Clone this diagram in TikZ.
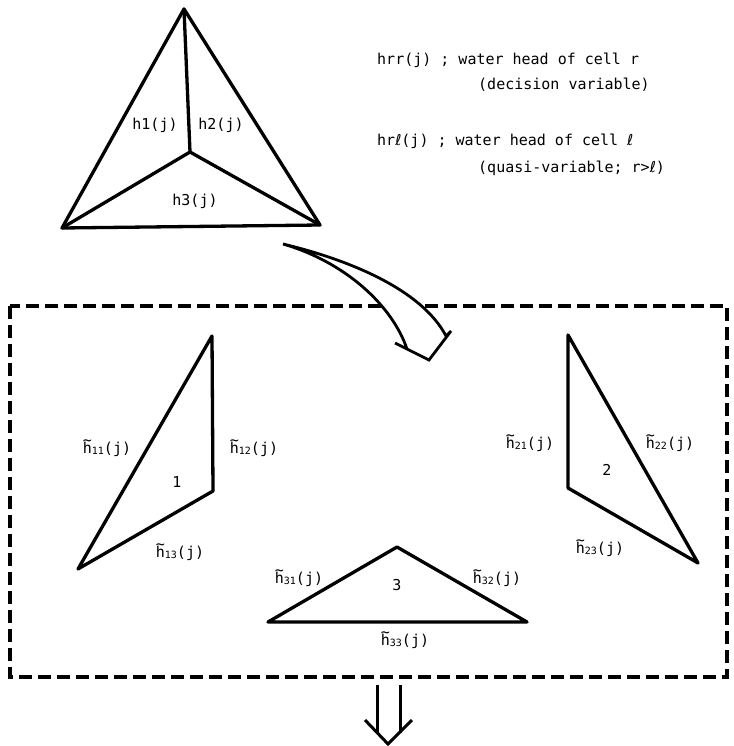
\documentclass[tikz,border=0pt]{standalone}
\usepackage{fontspec}
\setmainfont{DejaVu Sans Mono}
\newfontfamily\symf{DejaVu Sans}
\newcommand\elll{{\symf ℓ}}
\newcommand\hlab[1]{\makebox[0pt][l]{\raisebox{7.5pt}{\char"7E}}h\raisebox{-1.5pt}{\fontsize{10}{10}\selectfont #1}(j)}
\tikzset{
  edge/.style={line width=3.3pt, line join=round, line cap=round},
  lab/.style={font=\fontsize{15}{15}\selectfont, inner sep=0pt, anchor=base},
  txt/.style={font=\fontsize{15}{15}\selectfont, inner sep=0pt, anchor=base west},
  boxline/.style={line width=3.2pt, dash pattern=on 13pt off 6pt},
}
\begin{document}
\begin{tikzpicture}[x=1pt,y=-1pt]
\useasboundingbox (0,0) rectangle (733,746);
% top triangle
\coordinate (A) at (184,9);
\coordinate (B) at (62,228);
\coordinate (C) at (320,225);
\coordinate (O) at (190,152);
\draw[edge] (A)--(B)--(C)--cycle;
\draw[edge] (A)--(O) (B)--(O)--(C);
\node[lab] (h1) at (155,130) {h1(j)};
\node[lab] (h2) at (221,130) {h2(j)};
\node[lab] (h3) at (195,205) {h3(j)};
% legend
\node[txt] (l1) at (377,65) {hrr(j) ; water head of cell r};
\node[txt] (l2) at (478,90) {(decision variable)};
\node[txt] (l3) at (377,146) {hr\elll(j) ; water head of cell \elll};
\node[txt] (l4) at (478,172) {(quasi-variable; r>\elll)};
% dashed box
\draw[boxline] (10,306) rectangle (727,677);
% curved hollow arrow
\coordinate (tail) at (283,244);
\coordinate (oe) at (446,336);
\coordinate (rb) at (451,331);
\coordinate (tip) at (429,360);
\coordinate (lb) at (395,343);
\coordinate (ie) at (407,349);
\draw[line width=2.8pt, line join=miter, fill=white]
  (tail) .. controls (350,260) and (422,290) .. (oe) -- (rb) -- (tip) -- (lb) -- (ie)
  .. controls (392,305) and (345,262) .. cycle;
% triangle 1
\coordinate (a1) at (212,336);
\coordinate (b1) at (213,491);
\coordinate (c1) at (78,569);
\draw[edge] (a1)--(b1)--(c1)--cycle;
\node[lab] (t11) at (107,453) {\hlab{11}};
\node[lab] (t12) at (254,453) {\hlab{12}};
\node[lab] (n1) at (177,487) {1};
\node[lab] (t13) at (180,557) {\hlab{13}};
% triangle 2
\coordinate (a2) at (568,335);
\coordinate (b2) at (568,488);
\coordinate (c2) at (698,563);
\draw[edge] (a2)--(b2)--(c2)--cycle;
\node[lab] (t21) at (530,448) {\hlab{21}};
\node[lab] (t22) at (670,448) {\hlab{22}};
\node[lab] (n2) at (607,475) {2};
\node[lab] (t23) at (600,553) {\hlab{23}};
% triangle 3
\coordinate (a3) at (397,547);
\coordinate (b3) at (268,622);
\coordinate (c3) at (527,622);
\draw[edge] (a3)--(b3)--(c3)--cycle;
\node[lab] (t31) at (299,583) {\hlab{31}};
\node[lab] (t32) at (497,583) {\hlab{32}};
\node[lab] (n3) at (397,590) {3};
\node[lab] (t33) at (405,645) {\hlab{33}};
% double down arrow
\coordinate (s1) at (377,685);
\coordinate (s1e) at (377,733);
\coordinate (s2) at (400,685);
\coordinate (s2e) at (400,733);
\coordinate (dl) at (365,720);
\coordinate (dt) at (388,744);
\coordinate (dr) at (412,720);
\draw[line width=3pt] (s1)--(s1e) (s2)--(s2e);
\draw[line width=3pt, line join=miter] (dl)--(dt)--(dr);
\end{tikzpicture}
\end{document}
